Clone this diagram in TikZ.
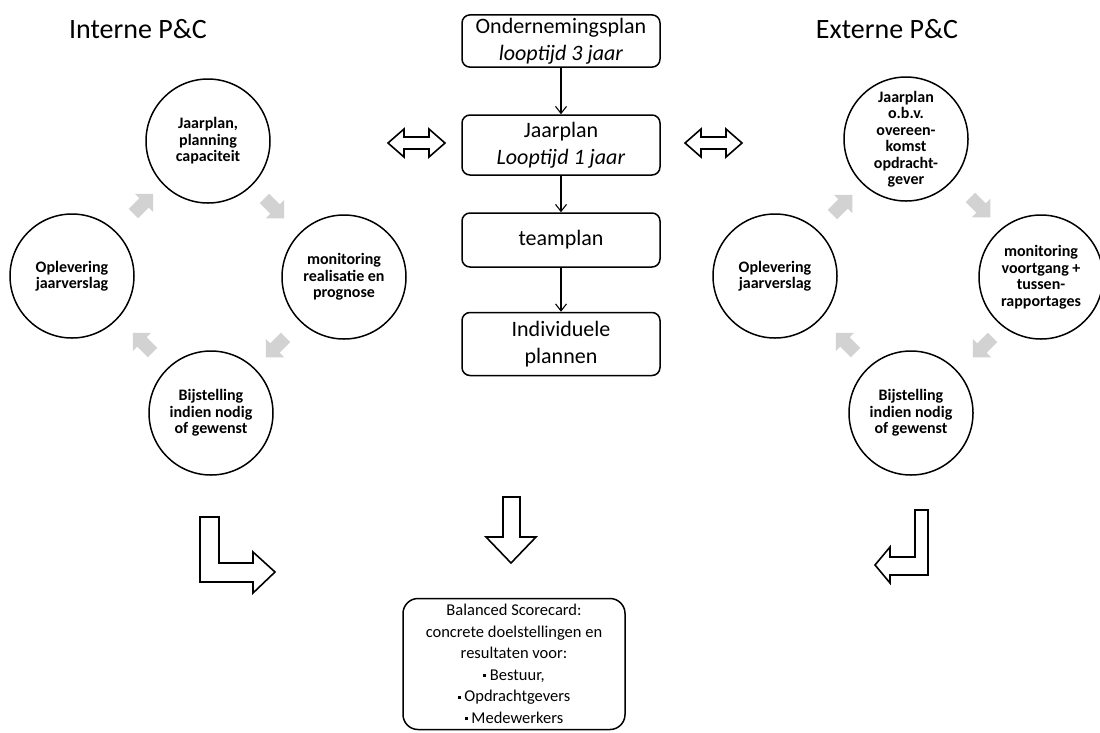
\documentclass[tikz,border=0pt]{standalone}
\usepackage{fontspec}
\setmainfont{Carlito}
\usetikzlibrary{arrows.meta,shapes.arrows}
\begin{document}
\begin{tikzpicture}[x=1pt,y=-1pt,
 circ/.style={circle,draw,line width=1.5pt,minimum size=124pt,inner sep=0pt,align=center,font=\fontsize{16}{16.5}\selectfont\bfseries},
 pbox/.style={draw,rounded corners=8pt,line width=1.5pt,minimum width=198pt,align=center,font=\fontsize{22}{26.5}\selectfont},
 ttl/.style={font=\fontsize{28}{30}\selectfont},
 hollow/.style={draw,line width=1.6pt,fill=white,line join=miter},
 cyc/.style={single arrow,fill=gray!35,draw=none,minimum height=28pt,minimum width=26pt,single arrow head extend=5pt,inner sep=5pt},
 link/.style={-{Straight Barb[length=7pt,width=11pt]},line width=1.1pt}
]
\useasboundingbox (0,0) rectangle (1100,732);

% titles
\node[ttl] (tI) at (138,29) {Interne P\&C};
\node[ttl] (tE) at (887,29) {Externe P\&C};

% interne cycle
\node[circ] (iT) at (208,141) {Jaarplan,\\planning\\capaciteit};
\node[circ] (iR) at (344,277) {monitoring\\realisatie en\\prognose};
\node[circ] (iB) at (211,413) {Bijstelling\\indien nodig\\of gewenst};
\node[circ] (iL) at (72,276) {Oplevering\\jaarverslag};
\node[cyc,rotate=45] (ia1) at (141,206) {};
\node[cyc,rotate=-45] (ia2) at (272,206) {};
\node[cyc,rotate=-135] (ia3) at (278,345) {};
\node[cyc,rotate=135] (ia4) at (145,345) {};

% externe cycle
\node[circ] (eT) at (906,139) {Jaarplan\\o.b.v.\\overeen-\\komst\\opdracht-\\gever};
\node[circ] (eR) at (1041,277) {monitoring\\voortgang +\\tussen-\\rapportages};
\node[circ] (eB) at (911,413) {Bijstelling\\indien nodig\\of gewenst};
\node[circ] (eL) at (775,276) {Oplevering\\jaarverslag};
\node[cyc,rotate=45] (ea1) at (840,207) {};
\node[cyc,rotate=-45] (ea2) at (978,205) {};
\node[cyc,rotate=-135] (ea3) at (985,345) {};
\node[cyc,rotate=135] (ea4) at (848,345) {};

% central column
\node[pbox,minimum height=52pt] (b1) at (561,41) {Ondernemingsplan\\\textit{looptijd 3 jaar}};
\node[pbox,minimum height=60pt] (b2) at (561,145) {Jaarplan\\\textit{Looptijd 1 jaar}};
\node[pbox,minimum height=54pt] (b3) at (561,240) {teamplan};
\node[pbox,minimum height=63pt] (b4) at (561,344) {Individuele\\plannen};
\draw[link] (b1) -- (b2);
\draw[link] (b2) -- (b3);
\draw[link] (b3) -- (b4);

% double hollow arrows
\draw[hollow] (388,143) -- (404,129) -- (404,137) -- (429,137) -- (429,129) -- (445,143)
  -- (429,157) -- (429,149) -- (404,149) -- (404,157) -- cycle;
\draw[hollow] (685,143) -- (701,129) -- (701,137) -- (726,137) -- (726,129) -- (742,143)
  -- (726,157) -- (726,149) -- (701,149) -- (701,157) -- cycle;

% down hollow arrow
\draw[hollow] (503,497) -- (520,497) -- (520,537) -- (536,537) -- (511,563) -- (486,537)
  -- (503,537) -- cycle;

% L arrows
\draw[hollow] (200,517) -- (219,517) -- (219,563) -- (253,563) -- (253,552) -- (275,572)
  -- (253,593) -- (253,582) -- (200,582) -- cycle;
\draw[hollow] (915,510) -- (928,510) -- (928,575) -- (890,575) -- (890,583) -- (875,565)
  -- (890,547) -- (890,557) -- (915,557) -- cycle;

% balanced scorecard
\node[draw,rounded corners=15pt,line width=1.5pt,minimum width=222pt,minimum height=131pt,
  align=center,font=\fontsize{16.5}{21.5}\selectfont] (bsc) at (514,664)
 {Balanced Scorecard:\\concrete doelstellingen en\\resultaten voor:\\
  \rule[3pt]{3pt}{3pt}\ Bestuur,\\\rule[3pt]{3pt}{3pt}\ Opdrachtgevers\\\rule[3pt]{3pt}{3pt}\ Medewerkers};
\end{tikzpicture}
\end{document}
